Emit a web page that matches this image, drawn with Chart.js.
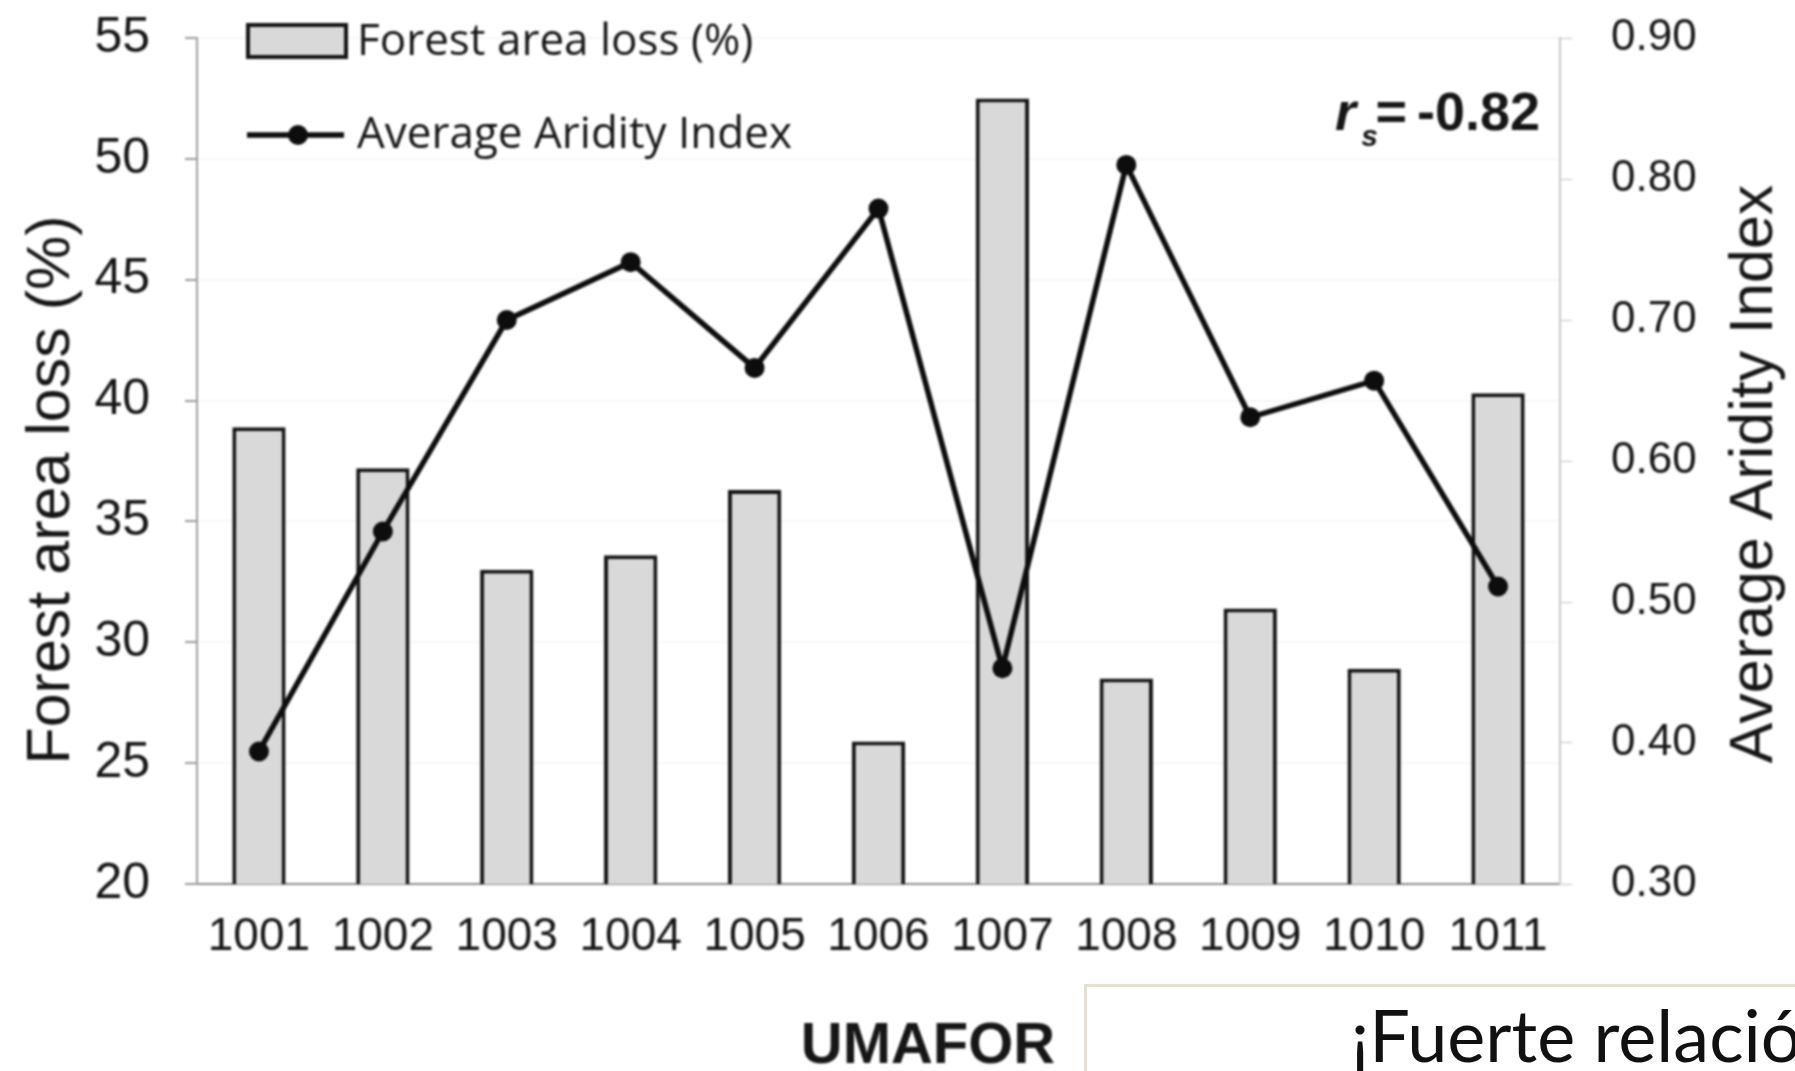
<!DOCTYPE html>
<html>
<head>
<meta charset="utf-8">
<script src="https://cdn.jsdelivr.net/npm/chart.js@4.4.1/dist/chart.umd.min.js"></script>
<style>
  html, body { margin: 0; padding: 0; background: #fff; overflow: hidden; }
  #wrap { position: relative; width: 1795px; height: 1071px; overflow: hidden; }
  #umaforChart { position: absolute; left: 0; top: 0; filter: blur(0.8px); }
  #note {
    position: absolute; left: 1084px; top: 984px; width: 760px; height: 120px;
    box-sizing: border-box; border: 3px solid #e4e0d5; background: #fff; overflow: hidden;
  }
  #note span {
    position: absolute; left: 264px; top: 11px; white-space: nowrap;
    font-family: Lato, "Open Sans", sans-serif; font-size: 72px; line-height: 1; color: #111;
  }
</style>
</head>
<body>
<div id="wrap">
  <canvas id="umaforChart" width="1795" height="1071"></canvas>
  <div id="note"><span>¡Fuerte relación</span></div>
</div>
<script>
const umafor = ['1001', '1002', '1003', '1004', '1005', '1006', '1007', '1008', '1009', '1010', '1011'];
const forestLoss = [38.9, 37.2, 33.0, 33.6, 36.3, 25.9, 52.5, 28.5, 31.4, 28.9, 40.3];
const aridityIndex = [0.394, 0.55, 0.70, 0.741, 0.666, 0.779, 0.453, 0.81, 0.631, 0.657, 0.511];
const lossTicks = [20, 25, 30, 35, 40, 45, 50, 55];
const aridityTicks = [0.30, 0.40, 0.50, 0.60, 0.70, 0.80, 0.90];
const spearman = '-0.82';

const sans = '"Liberation Sans", Arial, sans-serif';
const ink = '#161616';

// fixed axis box sizes, no extra room for half tick labels
const fitBox = (w, h) => s => {
  if (w) s.width = w;
  if (h) s.height = h;
  s.paddingTop = 0;
  s.paddingBottom = 0;
  s.paddingLeft = 0;
  s.paddingRight = 0;
};

// titles, legend and the correlation note drawn straight on the canvas
const extras = {
  id: 'extras',
  afterDraw(chart) {
    const ctx = chart.ctx;
    const [line, bars] = chart.data.datasets;
    ctx.save();
    ctx.fillStyle = ink;
    ctx.textBaseline = 'alphabetic';

    // rotated axis titles
    ctx.font = '61px ' + sans;
    ctx.textAlign = 'center';
    ctx.save();
    ctx.translate(69, 490);
    ctx.rotate(-Math.PI / 2);
    ctx.fillText('Forest area loss (%)', 0, 0);
    ctx.restore();
    ctx.save();
    ctx.translate(1772, 474);
    ctx.rotate(-Math.PI / 2);
    ctx.fillText('Average Aridity Index', 0, 0);
    ctx.restore();

    ctx.font = 'bold 58px ' + sans;
    ctx.fillText('UMAFOR', 928, 1063);

    // r_s = -0.82
    ctx.textAlign = 'right';
    ctx.font = 'bold 54px ' + sans;
    ctx.fillText(spearman, 1540, 130);
    ctx.fillText('=', 1407, 130);
    ctx.font = 'italic bold 30px ' + sans;
    ctx.fillText('s', 1378, 146);
    ctx.font = 'italic bold 54px ' + sans;
    ctx.fillText('r', 1356, 130);

    // legend
    ctx.fillStyle = bars.backgroundColor;
    ctx.strokeStyle = bars.borderColor;
    ctx.lineWidth = bars.borderWidth;
    ctx.fillRect(248, 25, 98, 32);
    ctx.strokeRect(248, 25, 98, 32);
    ctx.strokeStyle = line.borderColor;
    ctx.lineWidth = line.borderWidth;
    ctx.beginPath();
    ctx.moveTo(247, 135);
    ctx.lineTo(344, 135);
    ctx.stroke();
    ctx.fillStyle = line.pointBackgroundColor;
    ctx.beginPath();
    ctx.arc(298, 135, line.pointRadius, 0, Math.PI * 2);
    ctx.fill();

    ctx.fillStyle = ink;
    ctx.textAlign = 'left';
    ctx.font = '44px "Open Sans", sans-serif';
    ctx.fillText(bars.label, 357, 55);
    ctx.fillText(line.label, 357, 148);
    ctx.restore();
  }
};

new Chart(document.getElementById('umaforChart'), {
  data: {
    labels: umafor,
    datasets: [
      {
        type: 'line',
        label: 'Average Aridity Index',
        data: aridityIndex,
        yAxisID: 'yAridity',
        borderColor: '#0d0d0d',
        borderWidth: 5.5,
        pointRadius: 10,
        pointBackgroundColor: '#0d0d0d',
        pointBorderWidth: 0,
        tension: 0,
        order: 1
      },
      {
        type: 'bar',
        label: 'Forest area loss (%)',
        data: forestLoss,
        yAxisID: 'yLoss',
        backgroundColor: '#d9d9d9',
        borderColor: '#141414',
        borderWidth: 4,
        borderSkipped: false,
        barPercentage: 0.43,
        categoryPercentage: 1,
        order: 2
      }
    ]
  },
  options: {
    responsive: false,
    animation: false,
    devicePixelRatio: 1,
    layout: { padding: { top: 38, left: 0, right: 0, bottom: 0 } },
    plugins: {
      legend: { display: false },
      tooltip: { enabled: false }
    },
    scales: {
      x: {
        grid: { drawOnChartArea: false, drawTicks: false },
        border: { color: '#8c8c8c', width: 2 },
        ticks: { color: ink, padding: 26, font: { family: sans, size: 46 } },
        afterFit: fitBox(0, 187)
      },
      yLoss: {
        position: 'left',
        min: lossTicks[0],
        max: lossTicks[lossTicks.length - 1],
        afterBuildTicks: s => { s.ticks = lossTicks.map(v => ({ value: v })) },
        grid: { color: '#f7f7f7', lineWidth: 2, tickColor: '#9a9a9a', tickLength: 12 },
        border: { color: '#a0a0a0', width: 2 },
        ticks: { color: ink, padding: 35, font: { family: sans, size: 50 } },
        afterFit: fitBox(197, 0)
      },
      yAridity: {
        position: 'right',
        min: aridityTicks[0],
        max: aridityTicks[aridityTicks.length - 1],
        afterBuildTicks: s => { s.ticks = aridityTicks.map(v => ({ value: v })) },
        grid: { drawOnChartArea: false, tickColor: '#c0c0c0', tickLength: 12 },
        border: { color: '#c8c8c8', width: 2 },
        ticks: {
          color: ink, padding: 39, font: { family: sans, size: 44 },
          callback: v => Number(v).toFixed(2)
        },
        afterFit: fitBox(235, 0)
      }
    }
  },
  plugins: [extras]
});
</script>
</body>
</html>
